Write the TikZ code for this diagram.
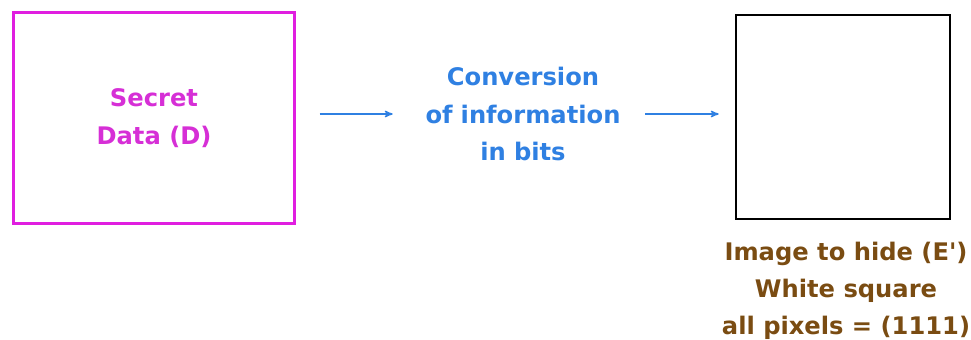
\documentclass[tikz,border=0pt]{standalone}
\usepackage{fontspec}
\newfontfamily\diagfont{DejaVu Sans}
\usetikzlibrary{arrows, positioning}
\definecolor{secretpink}{HTML}{D62FD6}
\definecolor{framepink}{HTML}{E01EE0}
\definecolor{bitblue}{HTML}{2F80E2}
\definecolor{hidebrown}{HTML}{7A4C12}

\begin{document}
\begin{tikzpicture}[x=0.025cm,y=-0.025cm,>=stealth',
    every node/.style={font=\diagfont\bfseries\fontsize{17.2}{26.5}\selectfont},
    box/.style={draw,minimum width=7cm,minimum height=5.25cm,inner sep=0pt},
    flow/.style={->,bitblue,line width=1pt}]
                \useasboundingbox (0,0) rectangle (971,340);
                \node[box, framepink, line width=2.1pt, text=secretpink, align=center] (secret) at (154,118) {Secret\\Data (D)};
                \node[bitblue, align=center, text width=5cm, inner sep=0pt] (conv) at (523,114) {Conversion\\of information\\in bits};
                \node[box, black, line width=1.8pt, minimum width=5.35cm, minimum height=5.1cm] (image) at (843,117) {};
                \node[hidebrown, align=center, inner sep=0pt] (label) at (846,291) {Image to hide (E')\\White square\\all pixels = (1111)};
                \draw[flow, shorten <=0.6cm, shorten >=0.75cm] (secret.east |- conv.west) -- (conv.west);
                \draw[flow, shorten <=0.55cm, shorten >=0.4cm] (conv.east) -- (conv.east -| image.west);
            \end{tikzpicture}
\end{document}
